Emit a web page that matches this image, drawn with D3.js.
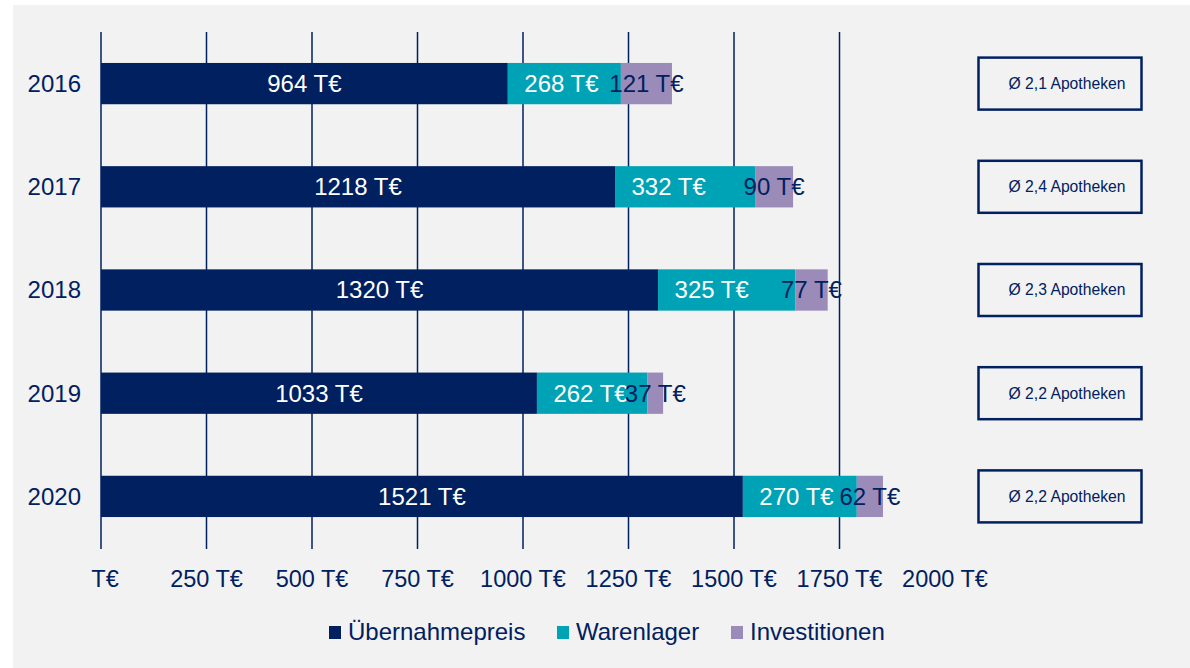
<!DOCTYPE html>
<html><head><meta charset="utf-8">
<script src="https://cdn.jsdelivr.net/npm/d3@7"></script>
<style>body{margin:0;background:#fff;}svg{display:block;font-family:"Liberation Sans",Arial,sans-serif;}</style>
</head><body><svg id="c" width="1190" height="668"></svg>
<script>
const years = ["2016","2017","2018","2019","2020"];
const uebernahmepreis = [964,1218,1320,1033,1521];
const warenlager = [268,332,325,262,270];
const investitionen = [121,90,77,37,62];
const apotheken = ["Ø 2,1 Apotheken","Ø 2,4 Apotheken","Ø 2,3 Apotheken","Ø 2,2 Apotheken","Ø 2,2 Apotheken"];
const tickValues = [0,250,500,750,1000,1250,1500,1750,2000];
const seriesNames = ["Übernahmepreis","Warenlager","Investitionen"];
const colors = ["#002060","#00A2B6","#9B8BB9"];
const labelColors = ["#ffffff","#ffffff","#002060"];

const navy = "#002060";
const svg = d3.select("#c");
svg.append("rect").attr("x",13).attr("y",5).attr("width",1177).attr("height",663).attr("fill","#f2f2f2");

const x = d3.scaleLinear().domain([0,2000]).range([101,945]);
const y = d3.scaleBand().domain(years).range([32,548]).paddingInner(0.6).paddingOuter(0.3);

// gridlines (no line at 2000)
svg.append("g").selectAll("line").data(tickValues.filter(v=>v<2000)).join("line")
  .attr("x1",d=>x(d)).attr("x2",d=>x(d)).attr("y1",32).attr("y2",549)
  .attr("stroke",navy).attr("stroke-width",1.5);

const rows = years.map((yr,i)=>{
  const vals=[uebernahmepreis[i],warenlager[i],investitionen[i]];
  let s=0; return vals.map((v,k)=>{const r={yr,k,v,x0:s,x1:s+v}; s+=v; return r;});
}).flat();

svg.append("g").selectAll("rect").data(rows).join("rect")
  .attr("x",d=>x(d.x0)).attr("width",d=>x(d.x1)-x(d.x0))
  .attr("y",d=>y(d.yr)).attr("height",y.bandwidth())
  .attr("fill",d=>colors[d.k]);

svg.append("g").selectAll("text").data(rows).join("text")
  .attr("x",d=>d.k===1 ? x(d.x0)+16.5 : (x(d.x0)+x(d.x1))/2)
  .attr("y",d=>y(d.yr)+y.bandwidth()/2)
  .attr("dy","0.35em").attr("text-anchor",d=>d.k===1?"start":"middle")
  .attr("font-size",24).attr("fill",d=>labelColors[d.k])
  .text(d=>d.v+" T€");

// year labels
svg.append("g").selectAll("text").data(years).join("text")
  .attr("x",81).attr("y",d=>y(d)+y.bandwidth()/2).attr("dy","0.35em")
  .attr("text-anchor","end").attr("font-size",24).attr("fill",navy).text(d=>d);

// x tick labels
svg.append("g").selectAll("text").data(tickValues).join("text")
  .attr("x",d=>x(d)+ (d===0?4:0)).attr("y",579).attr("dy","0.35em").attr("text-anchor","middle")
  .attr("font-size",23.5).attr("fill",navy).text(d=>d===0?"T€":d+" T€");

// boxes
const bx = svg.append("g").selectAll("g").data(years).join("g");
bx.append("rect").attr("x",978.5).attr("width",163)
  .attr("y",d=>y(d)+y.bandwidth()/2-26).attr("height",52)
  .attr("fill","none").attr("stroke",navy).attr("stroke-width",2.5);
bx.append("text").attr("x",1067).attr("y",d=>y(d)+y.bandwidth()/2).attr("dy","0.35em")
  .attr("text-anchor","middle").attr("font-size",15.7).attr("fill",navy)
  .text((d,i)=>apotheken[i]);

// legend
const legX = [329,557,731];
const lg = svg.append("g").selectAll("g").data(seriesNames).join("g")
  .attr("transform",(d,i)=>`translate(${legX[i]},632)`);
lg.append("rect").attr("x",0).attr("y",-6).attr("width",12).attr("height",13).attr("fill",(d,i)=>colors[i]);
lg.append("text").attr("x",19).attr("y",0).attr("dy","0.35em").attr("font-size",24).attr("fill",navy).text(d=>d);
</script></body></html>
